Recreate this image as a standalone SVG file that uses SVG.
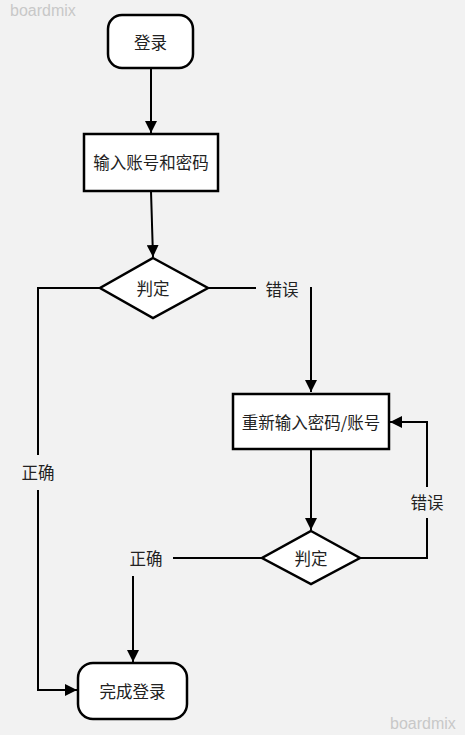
<svg xmlns="http://www.w3.org/2000/svg" width="465" height="735" viewBox="0 0 465 735">
<style>
.shape{fill:#fff;stroke:#000;stroke-width:2.5}
.t{font-family:"Noto Sans CJK SC","Liberation Sans",sans-serif;font-size:16.5px;fill:#222;text-anchor:middle;dominant-baseline:central}
.c{fill:none;stroke:#000;stroke-width:2}
.wm{font-family:"Liberation Sans",sans-serif;font-size:16px;fill:#c8c8c8}
</style>
<defs>
<marker id="ah" viewBox="0 0 12 12" refX="12" refY="6" markerWidth="12" markerHeight="12" markerUnits="userSpaceOnUse" orient="auto">
<path d="M0,0 L12,6 L0,12 Z" fill="#000"/>
</marker>
</defs>
<rect width="465" height="735" fill="#f2f2f2"/>
<text class="wm" x="10" y="16">boardmix</text>
<text class="wm" x="390" y="729">boardmix</text>
<g id="connectors">
<line class="c" x1="151" y1="68" x2="151" y2="133" marker-end="url(#ah)"/>
<line class="c" x1="151" y1="191" x2="153" y2="257" marker-end="url(#ah)"/>
<polyline class="c" points="100,288 38,288 38,455"/>
<polyline class="c" points="38,490 38,690 77,690" marker-end="url(#ah)"/>
<line class="c" x1="208" y1="288" x2="256" y2="288"/>
<line class="c" x1="311" y1="287" x2="311" y2="392" marker-end="url(#ah)"/>
<line class="c" x1="311" y1="449" x2="311" y2="530" marker-end="url(#ah)"/>
<polyline class="c" points="360,558 427,558 427,518"/>
<polyline class="c" points="427,487 427,422 390,422" marker-end="url(#ah)"/>
<line class="c" x1="262" y1="558" x2="173" y2="558"/>
<line class="c" x1="133" y1="576" x2="133" y2="662" marker-end="url(#ah)"/>
<text class="t" x="282" y="289">错误</text>
<text class="t" x="38" y="472">正确</text>
<text class="t" x="427" y="502">错误</text>
<text class="t" x="146" y="558">正确</text>
</g>
<g id="start">
<rect class="shape" x="108" y="15" width="85" height="53" rx="14"/>
<text class="t" x="150.5" y="42">登录</text>
</g>
<g id="input">
<rect class="shape" x="84" y="134" width="134" height="57"/>
<text class="t" x="151" y="162">输入账号和密码</text>
</g>
<g id="decision1">
<polygon class="shape" points="153,258 208,288 153,318 100,288"/>
<text class="t" x="153" y="288">判定</text>
</g>
<g id="reinput">
<rect class="shape" x="233" y="394" width="156" height="55"/>
<text class="t" x="311" y="422">重新输入密码/账号</text>
</g>
<g id="decision2">
<polygon class="shape" points="311,531 360,558 311,584 262,558"/>
<text class="t" x="311" y="558">判定</text>
</g>
<g id="finish">
<rect class="shape" x="78" y="663" width="109" height="56" rx="15"/>
<text class="t" x="132.5" y="691">完成登录</text>
</g>
</svg>
